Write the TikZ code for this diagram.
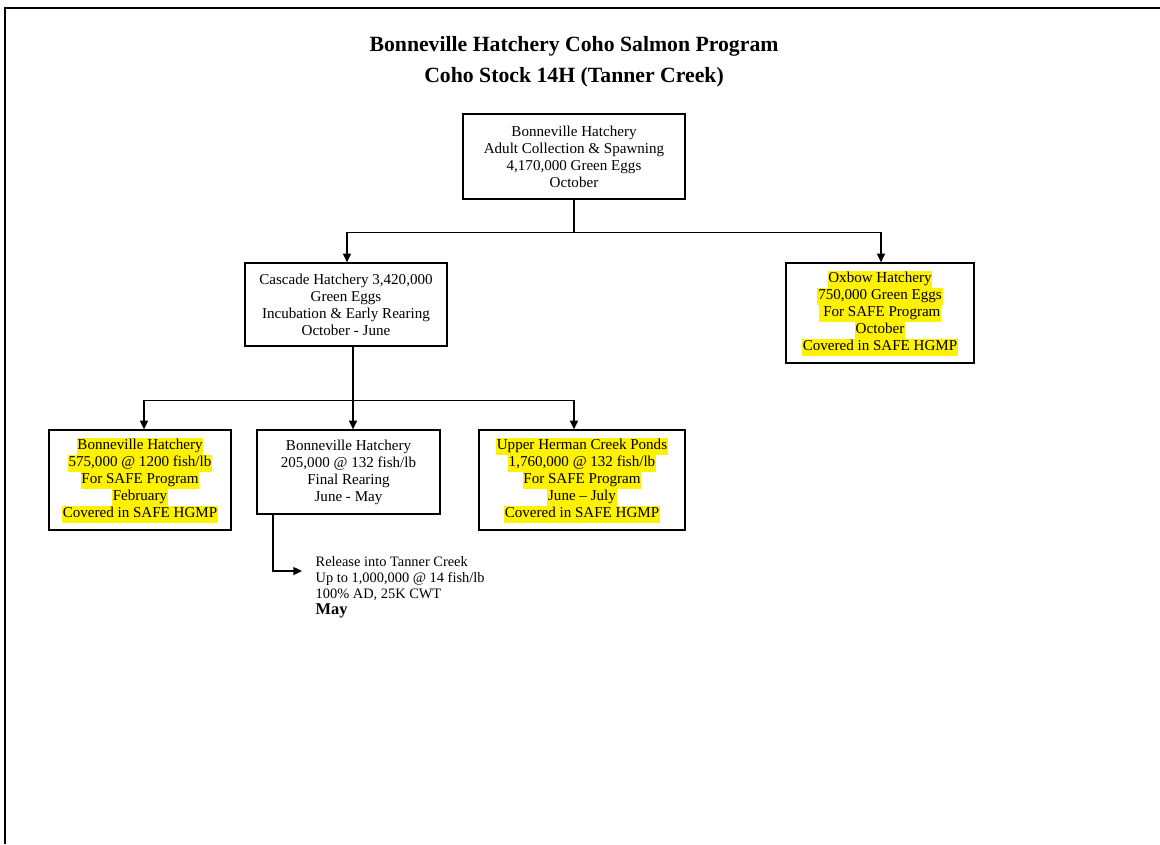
\documentclass[tikz,border=0pt]{standalone}
\usepackage{fontspec}
\setmainfont{Liberation Serif}
\usepackage{xcolor}
\usepackage{tikz}
\usetikzlibrary{arrows.meta,calc}
\tikzset{base/.style = {rectangle, draw=black, inner sep=0pt,
                           align=center,
                           font=\fontsize{11.3}{12.75}\selectfont}}
\newcommand{\hlyel}[1]{{\setlength{\fboxsep}{0pt}\colorbox{yellow}{\strut\hspace{0.6pt}#1\hspace{0.6pt}}}}

\begin{document}
\begin{tikzpicture}[x=0.75pt, y=-0.75pt, line width=1pt, >={Triangle[length=6.5pt,width=6pt]}]
\useasboundingbox (0,0) rectangle (1160,844);
\draw (1160,8) -- (5,8) -- (5,844);
\node[align=center, font=\fontsize{16.3}{23}\selectfont\bfseries] (0) at (574,62) {Bonneville Hatchery Coho Salmon Program\\Coho Stock 14H (Tanner Creek)};
\node[base, minimum width=166.5pt, minimum height=63.75pt] (1) at (574,156.5) {Bonneville Hatchery\\Adult Collection \& Spawning\\4,170,000 Green Eggs\\October};
\node[base, minimum width=151.5pt, minimum height=62.25pt] (2) at (346,304.5) {Cascade Hatchery 3,420,000\\Green Eggs\\Incubation \& Early Rearing\\October - June};
\node[base, minimum width=141pt, minimum height=75pt] (3) at (880,313) {\hlyel{Oxbow Hatchery}\\\hlyel{750,000 Green Eggs}\\\hlyel{ For SAFE Program}\\\hlyel{October}\\\hlyel{Covered in SAFE HGMP}};
\node[base, minimum width=136.5pt, minimum height=75pt] (4) at (140,480) {\hlyel{Bonneville Hatchery}\\\hlyel{575,000 @ 1200 fish/lb}\\\hlyel{For SAFE Program}\\\hlyel{February}\\\hlyel{Covered in SAFE HGMP}};
\node[base, minimum width=137.25pt, minimum height=63pt] (5) at (348.5,472) {Bonneville Hatchery\\205,000 @ 132 fish/lb\\Final Rearing\\June - May};
\node[base, minimum width=154.5pt, minimum height=75pt] (6) at (582,480) {\hlyel{Upper Herman Creek Ponds}\\\hlyel{1,760,000 @ 132 fish/lb}\\\hlyel{For SAFE Program}\\\hlyel{June -- July}\\\hlyel{Covered in SAFE HGMP}};
\node[align=left, anchor=west, inner sep=0pt, font=\fontsize{10.8}{12}\selectfont] (7) at (315,587) {Release into Tanner Creek\\Up to 1,000,000 @ 14 fish/lb\\100\% AD, 25K CWT\\{\fontsize{12.3}{16}\selectfont\bfseries May}};
% first split
\draw (1.south) -- ++(0,33) coordinate (a);
\draw[->] (a) -| ($(2.north)+(1,0)$);
\draw[->] (a) -| ($(3.north)+(1,0)$);
% second split
\draw ($(2.south)+(7,0)$) -- ++(0,54) coordinate (b);
\draw[->] (b) -| ($(4.north)+(4,0)$);
\draw[->] (b) -- ($(5.north)+(4.5,0)$);
\draw[->] (b) -| ($(6.north)+(-8,0)$);
% release
\draw[->] ($(5.south)+(-75.5,0)$) |- ($(7.west)+(-13,-16)$);
\end{tikzpicture}
\end{document}
